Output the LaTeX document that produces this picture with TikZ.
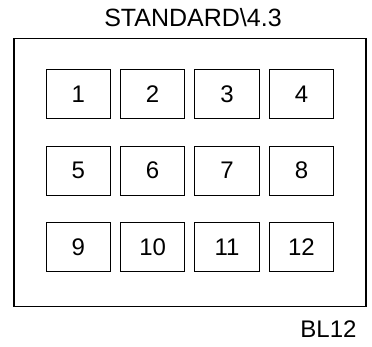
\documentclass[tikz,border=0pt]{standalone}
\usepackage{fontspec}
\setmainfont{Liberation Sans}
\tikzset{
  panel/.style={draw=black, line width=1.3pt},
  slotbox/.style={draw=black, line width=1pt, minimum width=64.5pt, minimum height=49pt, inner sep=0pt, font=\fontsize{24}{28}\selectfont},
  ttl/.style={font=\fontsize{25}{30}\selectfont, inner sep=0pt, anchor=base},
  tag/.style={font=\fontsize{24}{28}\selectfont, inner sep=0pt, anchor=base east},
}
\begin{document}
\begin{tikzpicture}[x=1pt,y=-1pt]
  \useasboundingbox (0,0) rectangle (372,347);
  \node[ttl] (title) at (193.000,26.700) {STANDARD\textbackslash 4.3};
  \draw[panel] (14.000,38.300) rectangle (366.000,306.700);
  % row 1
  \node[slotbox] (s1) at (78.250,94.400) {1};
  \node[slotbox] (s2) at (152.650,94.400) {2};
  \node[slotbox] (s3) at (227.050,94.400) {3};
  \node[slotbox] (s4) at (301.450,94.400) {4};
  % row 2
  \node[slotbox] (s5) at (78.250,170.600) {5};
  \node[slotbox] (s6) at (152.650,170.600) {6};
  \node[slotbox] (s7) at (227.050,170.600) {7};
  \node[slotbox] (s8) at (301.450,170.600) {8};
  % row 3
  \node[slotbox] (s9) at (78.250,246.900) {9};
  \node[slotbox] (s10) at (152.650,246.900) {10};
  \node[slotbox] (s11) at (227.050,246.900) {11};
  \node[slotbox] (s12) at (301.450,246.900) {12};
  \node[tag] (code) at (356.700,337.300) {BL12};
\end{tikzpicture}
\end{document}
